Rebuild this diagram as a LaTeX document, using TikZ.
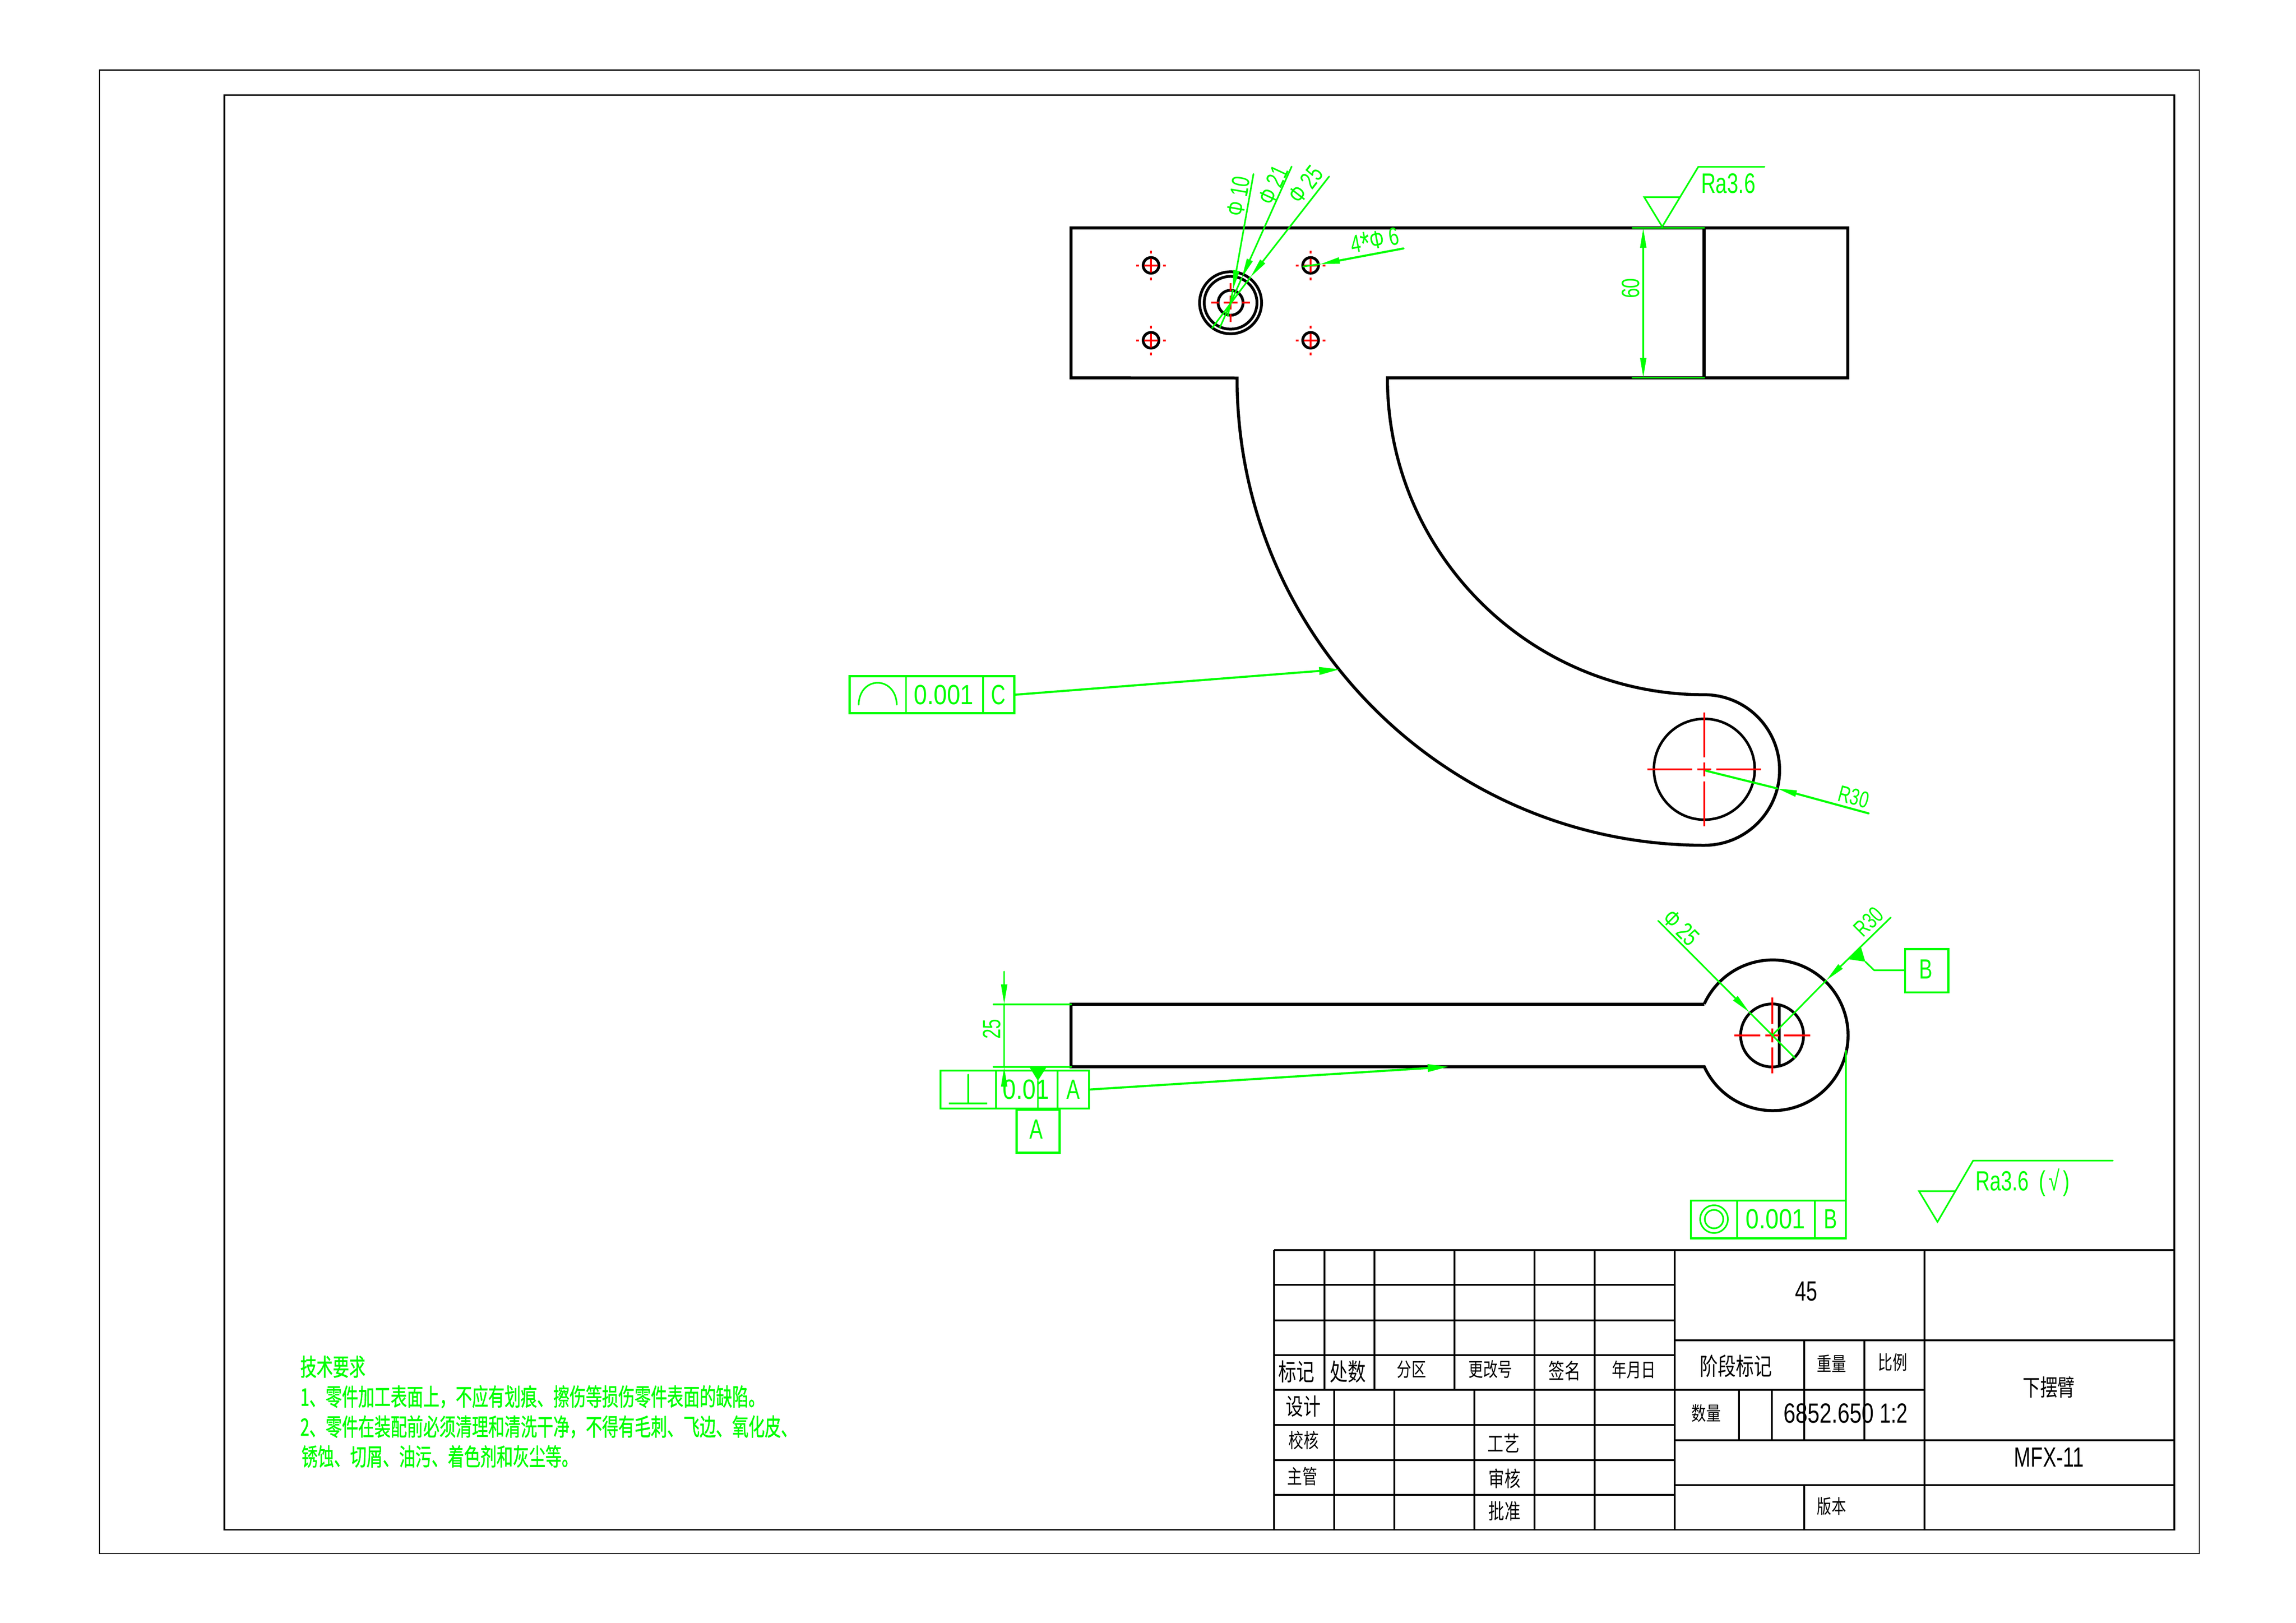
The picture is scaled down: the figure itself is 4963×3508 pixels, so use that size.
\documentclass[tikz,border=0pt]{standalone}
\usepackage{fontspec}
\usetikzlibrary{arrows.meta}
\setmainfont{Liberation Sans}
\newfontfamily\cadf[FakeStretch=0.72]{Liberation Sans}
\newfontfamily\cadw[FakeStretch=0.86]{Liberation Sans}
\newfontfamily\cadn[FakeStretch=0.78]{Liberation Sans}
\newfontfamily\cjka[FakeStretch=0.75]{Noto Sans CJK SC}
\newfontfamily\cjkb[FakeStretch=0.676,FakeBold=1]{Noto Sans CJK SC}
\definecolor{cadgreen}{RGB}{0,255,0}
\definecolor{cadred}{RGB}{255,0,0}
\tikzset{
  part/.style={line width=6.5pt,black,line join=miter,line cap=butt},
  hole/.style={line width=6pt,black},
  tb/.style={line width=4pt,black},
  gl/.style={line width=3.5pt,cadgreen,line cap=round},
  gk/.style={line width=4.5pt,cadgreen},
  cl/.style={line width=4pt,cadred},
  head/.style={-{Triangle[length=43pt,width=13pt]}},
  bighead/.style={-{Triangle[length=45pt,width=16pt]}},
  gt/.style={font=\cadf\fontsize{#1}{#1}\selectfont,text=cadgreen,inner sep=0pt},
  gw/.style={font=\cadw\fontsize{#1}{#1}\selectfont,text=cadgreen,inner sep=0pt},
  kt/.style={font=\cadf\fontsize{#1}{#1}\selectfont,text=black,inner sep=0pt},
  kn/.style={font=\cadn\fontsize{#1}{#1}\selectfont,text=black,inner sep=0pt},
  kc/.style={font=\cjka\fontsize{#1}{#1}\selectfont,text=black,inner sep=0pt},
  gc/.style={font=\cjkb\fontsize{52}{52}\selectfont,text=cadgreen,inner sep=0pt,anchor=west}
}
\newcommand{\cadcross}[5]{%
  \draw[cl] (#1-#3,#2)--(#1+#3,#2) (#1,#2-#3)--(#1,#2+#3);
  \draw[cl] (#1-#5,#2)--(#1-#4,#2) (#1+#4,#2)--(#1+#5,#2)
            (#1,#2-#5)--(#1,#2-#4) (#1,#2+#4)--(#1,#2+#5);
}
\begin{document}
\begin{tikzpicture}[x=1pt,y=-1pt]
\useasboundingbox (0,0) rectangle (4963,3508);
% sheet borders
\draw[line width=2.7pt,black] (215,151.5) rectangle (4754,3358);
\draw[line width=3.5pt,black] (485,205.5) rectangle (4700,3306.5);

% top view
\draw[part] (2315,492.5) -- (3994,492.5) -- (3994,816.6) -- (2999,816.6)
  arc[start angle=180,end angle=270,radius=685pt]
  arc[start angle=90,end angle=-90,radius=162.7pt]
  arc[start angle=270,end angle=180,radius=1010pt]
  -- (2315,816.6) -- cycle;
\draw[part] (3683.5,492.5) -- (3683.5,816.6);
\foreach \hx in {2488,2833} \foreach \hy in {573.6,735.5} {
  \draw[hole] (\hx,\hy) circle[radius=17pt];
  \cadcross{\hx}{\hy}{15}{26}{32}
}
\draw[hole] (2660,654.4) circle[radius=67pt] (2660,654.4) circle[radius=57pt] (2660,654.4) circle[radius=27pt];
\cadcross{2660}{654.4}{15}{25}{42}
\draw[part,line width=5.5pt] (3684,1662.7) circle[radius=109pt];
\cadcross{3684}{1662.7}{15}{26}{123}

% side view
\draw[part] (3684,2170.7) -- (2315,2170.7) -- (2315,2305.7) -- (3684,2305.7)
  arc[start angle=-155.3,end angle=155.3,radius=162.8pt];
\draw[hole] (3830.5,2238) circle[radius=68pt];
\draw[hole] (3846,2172) -- (3846,2304);
\cadcross{3830.5}{2238}{15}{25.5}{82}

% leaders, top view
\coordinate (d10a) at (2709.5,376); \coordinate (d10t) at (2665,627); \coordinate (d10b) at (2654,683);
\coordinate (d21a) at (2792,360);   \coordinate (d21t) at (2684,601); \coordinate (d21b) at (2637,707.6);
\coordinate (d25a) at (2873,381.5); \coordinate (d25t) at (2703,599); \coordinate (d25b) at (2620,709);
\draw[gl,head] (d10a) -- (d10t); \draw[gl] (d10t) -- (d10b);
\draw[gl,head] (d21a) -- (d21t); \draw[gl] (d21t) -- (d21b);
\draw[gl,head] (d25a) -- (d25t); \draw[gl] (d25t) -- (d25b);
\node[gt=54,rotate=80] (t10) at (2677,424) {Φ 10};
\node[gt=54,rotate=65] (t21) at (2752,400) {Φ 21};
\node[gt=54,rotate=52] (t25) at (2822,399) {Φ 25};
\coordinate (d6a) at (3033.6,537); \coordinate (d6t) at (2853,571); \coordinate (d6b) at (2817,576);
\draw[gl,line width=4.5pt,head] (d6a) -- (d6t); \draw[gl] (d6t) -- (d6b);
\node[gt=54,rotate=10.6] (t6) at (2972.5,522) {4\raisebox{-9pt}{\fontsize{72}{72}\selectfont *}Φ 6};

% dimension 60
\coordinate (e1a) at (3528.6,492.5); \coordinate (e1b) at (3684,492.5);
\coordinate (e2a) at (3528.6,816.6); \coordinate (e2b) at (3684,816.6);
\coordinate (f1) at (3552,492.5); \coordinate (f2) at (3552,816.6);
\draw[gl] (e1a) -- (e1b); \draw[gl] (e2a) -- (e2b);
\draw[gl,{Triangle[length=43pt,width=13pt]}-{Triangle[length=43pt,width=13pt]}] (f1) -- (f2);
\node[gt=54,rotate=90] (t60) at (3525,623) {60};

% roughness
\coordinate (r1) at (3554,426); \coordinate (r2) at (3593,490); \coordinate (r3) at (3671,360.5); \coordinate (r4) at (3814,360.5); \coordinate (r5) at (3632,426);
\draw[gl] (r5) -- (r1) -- (r2) -- (r3) -- (r4);
\node[gt=61,anchor=base west] (tRa1) at (3677,417) {Ra3.6};

% R30 top
\coordinate (g0) at (3688,1666); \coordinate (gtip) at (3841,1704); \coordinate (g1) at (4039,1758);
\draw[gl,line width=4.5pt,head] (g1) -- (gtip); \draw[gl,line width=4.5pt] (gtip) -- (g0);
\node[gt=50,rotate=-15] (tR1) at (4007,1722) {R30};

% frame C
\draw[gk] (1836.7,1461.7) rectangle (2192.5,1541.7);
\coordinate (fc1) at (1958.4,1461.7); \coordinate (fc2) at (1958.4,1541.7);
\coordinate (fc3) at (2125,1461.7); \coordinate (fc4) at (2125,1541.7);
\draw[gl] (fc1) -- (fc2) (fc3) -- (fc4);
\draw[gl] (1856,1523) .. controls (1858,1460) and (1936,1460) .. (1938.5,1523);
\node[gw=60] (tC1) at (2040,1501.7) {0.001};
\node[gt=60] (tC2) at (2158,1501.7) {C};
\coordinate (lc1) at (2192.5,1501.7); \coordinate (lc2) at (2896.4,1446.7);
\draw[gk,bighead] (lc1) -- (lc2);

% dimension 25
\coordinate (h1a) at (2147.7,2170.7); \coordinate (h1b) at (2315,2170.7);
\coordinate (h2a) at (2147.7,2305.7); \coordinate (h2b) at (2315,2305.7);
\draw[gl,line width=4pt] (h1a) -- (h1b); \draw[gl,line width=4pt] (h2a) -- (h2b);
\coordinate (i0) at (2170.6,2100); \coordinate (i1) at (2170.6,2170.7); \coordinate (i2) at (2170.6,2305.7); \coordinate (i3) at (2170.6,2350);
\draw[gl,head] (i0) -- (i1); \draw[gl] (i1) -- (i2); \draw[gl,head] (i3) -- (i2);
\node[gt=54,rotate=90] (t25b) at (2144,2224) {25};

% frame perpendicular
\draw[gk] (2033,2314) rectangle (2354,2396);
\coordinate (p1) at (2153,2314); \coordinate (p2) at (2153,2396);
\coordinate (p3) at (2286,2314); \coordinate (p4) at (2286,2396);
\draw[gl] (p1) -- (p2) (p3) -- (p4);
\draw[gl] (2093,2323) -- (2093,2385);
\draw[gk] (2051,2385) -- (2134,2385);
\node[gw=60] (tP1) at (2218,2355) {0.01};
\node[gt=60] (tP2) at (2320,2355) {A};
\coordinate (lp1) at (2354,2355); \coordinate (lp2) at (3131,2305.7);
\draw[gk,bighead] (lp1) -- (lp2);
% datum A
\fill[cadgreen] (2225.7,2307.3) -- (2261.7,2307.3) -- (2243.5,2336) -- cycle;
\coordinate (da1) at (2243.5,2336); \coordinate (da2) at (2243.5,2399);
\draw[gl] (da1) -- (da2);
\draw[gk] (2197.4,2399) rectangle (2290.7,2491.7);
\node[gt=60] (tDA) at (2240,2441) {A};

% side view leaders
\coordinate (k1) at (3584,1990); \coordinate (k2) at (3781.5,2188); \coordinate (k3) at (3880,2287);
\draw[gl,head] (k1) -- (k2); \draw[gl] (k2) -- (k3);
\node[gt=54,rotate=-45] (tk) at (3634,2005) {Φ 25};
\coordinate (m1) at (4087,1983); \coordinate (m2) at (3947.6,2119); \coordinate (m3) at (3830.5,2238);
\draw[gl,head] (m1) -- (m2); \draw[gl] (m2) -- (m3);
\node[gt=50,rotate=45] (tm) at (4039,1992) {R30};
% datum B
\fill[cadgreen] (4022.6,2047) -- (3997,2073.5) -- (4032,2078.6) -- cycle;
\coordinate (b1) at (4032,2078.6); \coordinate (b2) at (4051,2097); \coordinate (b3) at (4118,2097);
\draw[gl] (b1) -- (b2) -- (b3);
\draw[gk] (4118,2051.5) rectangle (4211.5,2145);
\node[gt=60] (tDB) at (4163,2095) {B};

% concentricity frame
\draw[gk] (3655,2595) rectangle (3990,2676.5);
\coordinate (q1) at (3755,2595); \coordinate (q2) at (3755,2676.5);
\coordinate (q3) at (3923,2595); \coordinate (q4) at (3923,2676.5);
\draw[gk] (q1) -- (q2) (q3) -- (q4);
\draw[gl] (3705,2635) circle[radius=30pt] (3705,2635) circle[radius=20pt];
\node[gw=60] (tQ1) at (3838,2635) {0.001};
\node[gt=60] (tQ2) at (3957,2635) {B};
\coordinate (q5) at (3990,2270); \coordinate (q6) at (3990,2595);
\draw[gk] (q5) -- (q6);

% general roughness
\coordinate (s1) at (4148,2574.5); \coordinate (s2) at (4188,2641); \coordinate (s3) at (4265,2508.7); \coordinate (s4) at (4567,2508.7); \coordinate (s5) at (4227,2574.5);
\draw[gl] (s5) -- (s1) -- (s2) -- (s3) -- (s4);
\node[gt=60,anchor=base west] (tRa2) at (4270,2573.5) {Ra3.6};
\node[gt=60,anchor=base west] (tRa3) at (4407,2573.5) {(\kern7pt√\kern7pt)};

% technical requirements
\node[gc] (tr0) at (649,2954) {技术要求};
\node[gc] (tr1) at (649,3019) {1、零件加工表面上，不应有划痕、擦伤等损伤零件表面的缺陷。};
\node[gc] (tr2) at (649,3084) {2、零件在装配前必须清理和清洗干净，不得有毛刺、飞边、氧化皮、};
\node[gc] (tr3) at (651.5,3148) {锈蚀、切屑、油污、着色剂和灰尘等。};

% title block lines
\draw[tb] (2754,2702) -- (4700,2702);
\draw[tb] (2754,2777) -- (3619.7,2777) (2754,2854) -- (3619.7,2854) (2754,2929) -- (3619.7,2929)
          (2754,3004) -- (4159.6,3004) (2754,3080) -- (3619.7,3080) (2754,3155.6) -- (3619.7,3155.6) (2754,3231) -- (3619.7,3231);
\draw[tb] (2754,2702) -- (2754,3306.5) (3619.7,2702) -- (3619.7,3306.5)
          (3316.7,2702) -- (3316.7,3306.5) (3447,2702) -- (3447,3306.5);
\draw[tb] (2862.7,2702) -- (2862.7,3004) (2971,2702) -- (2971,3004) (3144,2702) -- (3144,3004);
\draw[tb] (2884,3004) -- (2884,3306.5) (3014,3004) -- (3014,3306.5) (3187,3004) -- (3187,3306.5);
\draw[tb] (3619.7,2897) -- (4700,2897) (3619.7,3112.5) -- (4700,3112.5) (3619.7,3210) -- (4700,3210);
\draw[tb] (4159.6,2702) -- (4159.6,3306.5);
\draw[tb] (3900,2897) -- (3900,3112.5) (4029.8,2897) -- (4029.8,3112.5) (3900,3210) -- (3900,3306.5);
\draw[tb] (3759,3004) -- (3759,3112.5) (3829.6,3004) -- (3829.6,3112.5);

% title block text
\node[kc=52] (n1) at (2802,2965) {标记};
\node[kc=52] (n2) at (2913.7,2965) {处数};
\node[kc=42] (n3) at (3051,2960) {分区};
\node[kc=42] (n4) at (3222,2960) {更改号};
\node[kc=46] (n5) at (3382,2963) {签名};
\node[kc=42] (n6) at (3532,2960) {年月日};
\node[kc=50] (n7) at (2817,3040) {设计};
\node[kc=43] (n8) at (2818,3113) {校核};
\node[kc=43] (n9) at (2815,3191) {主管};
\node[kc=46] (n10) at (3250,3119.6) {工艺};
\node[kc=46] (n11) at (3252,3196) {审核};
\node[kc=46] (n12) at (3252,3266) {批准};
\node[kt=60] (n13) at (3904,2791) {45};
\node[kc=52] (n14) at (3752.5,2953) {阶段标记};
\node[kc=42] (n15) at (3959,2947) {重量};
\node[kc=42] (n16) at (4091,2945) {比例};
\node[kc=42] (n17) at (3688,3054.5) {数量};
\node[kn=60] (n18) at (3953,3054.5) {6852.650};
\node[kt=60] (n19) at (4093,3054.5) {1:2};
\node[kc=50] (n20) at (4429,2998.5) {下摆臂};
\node[kt=60] (n21) at (4429,3150) {MFX-11};
\node[kc=42] (n22) at (3959,3256) {版本};
\end{tikzpicture}
\end{document}
